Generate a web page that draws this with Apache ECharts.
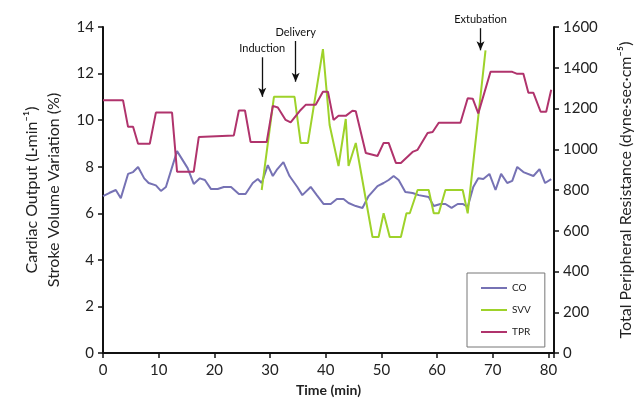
<!DOCTYPE html>
<html>
<head>
<meta charset="utf-8">
<script src="https://cdn.jsdelivr.net/npm/echarts@6/dist/echarts.min.js"></script>
<style>
  html, body { margin: 0; padding: 0; background: #fff; }
  #chart { width: 642px; height: 410px; }
</style>
</head>
<body>
<div id="chart"></div>
<script>
// time (min) and value for each corner of the lines
const coTime = [0, 1.1, 2.3, 3.2, 4.5, 5.4, 6.3, 7.4, 8.2, 9.5, 10.4, 11.3, 13.3, 15.2, 16.3, 17.4, 18.3, 19.4, 20.6, 21.7, 23, 24.4, 25.6, 26.9, 27.8, 28.5, 29.6, 30.5, 31.2, 32.4, 33.5, 34.9, 35.8, 37.3, 38.4, 39.6, 40.9, 42, 43.2, 44.1, 45.4, 46.6, 47.7, 49.3, 50.4, 51.3, 52.2, 53.1, 54.3, 55.6, 56.7, 58.5, 59.4, 60.6, 61.5, 62.6, 63.7, 64.6, 65.5, 66.5, 67.4, 68.3, 69.4, 70.5, 71.5, 72.6, 73.5, 74.4, 75.5, 77.3, 78.4, 79.4, 80.5];
const coValue = [6.74, 6.87, 7.0, 6.65, 7.69, 7.77, 7.99, 7.5, 7.3, 7.2, 6.96, 7.13, 8.67, 7.94, 7.26, 7.5, 7.43, 7.04, 7.04, 7.13, 7.13, 6.83, 6.83, 7.3, 7.47, 7.3, 8.07, 7.6, 7.86, 8.2, 7.6, 7.13, 6.78, 7.13, 6.78, 6.4, 6.4, 6.61, 6.61, 6.44, 6.31, 6.23, 6.74, 7.17, 7.3, 7.43, 7.6, 7.43, 6.91, 6.87, 6.78, 6.7, 6.31, 6.4, 6.4, 6.23, 6.4, 6.4, 6.27, 7.13, 7.5, 7.47, 7.69, 7.0, 7.69, 7.3, 7.39, 7.99, 7.77, 7.6, 7.9, 7.3, 7.47];

const svvTime = [28.5, 30.7, 34.4, 35.5, 36.8, 39.5, 40.7, 42.3, 43.6, 44.1, 45.4, 48.4, 49.5, 50.4, 51.5, 53.5, 54.5, 55.1, 56.5, 58.5, 59.4, 60.3, 61.5, 64.6, 65.5, 68.7];
const svvValue = [7.0, 11.0, 11.0, 9.02, 9.02, 13.05, 9.79, 8.03, 10.05, 8.03, 9.02, 4.98, 4.98, 6.0, 4.98, 4.98, 6.0, 6.0, 7.0, 7.0, 6.0, 6.0, 7.0, 7.0, 6.0, 13.0];

const tprTime = [0, 3.6, 4.5, 5.4, 6.3, 8.4, 9.5, 12.4, 13.3, 16.3, 17.2, 23.5, 24.4, 25.5, 26.5, 29.4, 30.5, 31.4, 32.8, 33.7, 35.5, 36.4, 38.2, 39.5, 40.4, 41.4, 42.3, 43.6, 44.8, 45.4, 47.2, 49.3, 50.4, 51.3, 52.6, 53.5, 55.6, 56.5, 58.3, 59.2, 60.3, 64.2, 65.5, 66.4, 67.4, 69.6, 73.5, 74.4, 75.5, 76.4, 77.3, 78.6, 79.6, 80.5];
const tprValue = [1240, 1240, 1110, 1110, 1027, 1027, 1180, 1180, 890, 890, 1060, 1068, 1190, 1190, 1036, 1036, 1213, 1205, 1144, 1132, 1193, 1218, 1218, 1282, 1282, 1144, 1164, 1164, 1189, 1186, 982, 967, 1031, 1031, 933, 933, 987, 997, 1080, 1085, 1130, 1130, 1250, 1248, 1176, 1380, 1380, 1370, 1370, 1277, 1277, 1184, 1184, 1292];

// events: time, arrow top and bottom on the left axis
const eventNames = ['Induction', 'Delivery', 'Extubation'];
const eventTime = [28.6, 34.6, 67.8];
const eventTop = [12.7, 13.4, 13.95];
const eventBottom = [11.0, 11.65, 13.0];

const xTicks = [0, 10, 20, 30, 40, 50, 60, 70, 80];

const font = 'Lato, "Open Sans", sans-serif';
const pairs = (xs, ys) => xs.map((x, i) => [x, ys[i]]);

const chart = echarts.init(document.getElementById('chart'));

const eventLines = eventNames.map((name, i) => [
    {
        coord: [eventTime[i], eventTop[i]],
        label: { show: true, position: 'start', formatter: name, distance: 3 }
    },
    { coord: [eventTime[i], eventBottom[i]] }
]);

chart.setOption({
    animation: false,
    textStyle: { fontFamily: font },
    grid: { left: 103, right: 87, top: 27, bottom: 57 },
    legend: {
        orient: 'vertical',
        left: 467,
        top: 273,
        width: 60,
        padding: [9, 14, 9, 14],
        itemGap: 10,
        icon: 'rect',
        itemWidth: 26,
        itemHeight: 2,
        borderColor: '#777',
        borderWidth: 1,
        textStyle: { fontSize: 10, color: '#222', fontFamily: font, lineHeight: 12 },
        data: ['CO', 'SVV', 'TPR']
    },
    xAxis: {
        type: 'value',
        min: 0,
        max: 81,
        interval: 10,
        name: 'Time (min)',
        nameLocation: 'middle',
        nameGap: 30,
        nameTextStyle: { fontSize: 14, fontWeight: 'bold', color: '#222' },
        splitLine: { show: false },
        axisLine: { lineStyle: { color: '#111', width: 2 } },
        axisTick: { length: 5, lineStyle: { color: '#111', width: 1.5 } },
        axisLabel: {
            fontSize: 15, color: '#222', margin: 10,
            formatter: v => (xTicks.indexOf(v) >= 0 ? String(v) : '')
        }
    },
    yAxis: [
        {
            type: 'value',
            min: 0,
            max: 14,
            interval: 2,
            name: 'Cardiac Output (L·min⁻¹)\nStroke Volume Variation (%)',
            nameLocation: 'middle',
            nameRotate: 90,
            nameGap: 38,
            nameTextStyle: { fontSize: 16, color: '#222', lineHeight: 22 },
            splitLine: { show: false },
            axisLine: { show: true, lineStyle: { color: '#111', width: 2 } },
            axisTick: { show: true, length: 5, lineStyle: { color: '#111', width: 1.5 } },
            axisLabel: { fontSize: 15, color: '#222', margin: 9 }
        },
        {
            type: 'value',
            min: 0,
            max: 1600,
            interval: 200,
            name: 'Total Peripheral Resistance (dyne·sec·cm⁻⁵)',
            nameLocation: 'middle',
            nameRotate: 90,
            nameGap: 64,
            nameTextStyle: { fontSize: 16, color: '#222' },
            splitLine: { show: false },
            axisLine: { show: true, lineStyle: { color: '#111', width: 2 } },
            axisTick: { show: true, length: 5, lineStyle: { color: '#111', width: 1.5 } },
            axisLabel: { fontSize: 15, color: '#222', margin: 9, formatter: v => String(v) }
        }
    ],
    series: [
        {
            name: 'CO',
            type: 'line',
            yAxisIndex: 0,
            symbol: 'none',
            data: pairs(coTime, coValue),
            lineStyle: { color: '#7672b4', width: 2 },
            itemStyle: { color: '#7672b4' },
            markLine: {
                silent: true,
                symbol: ['none', 'arrow'],
                symbolSize: [6, 9],
                lineStyle: { color: '#111', width: 1.3, type: 'solid' },
                label: { fontSize: 11, color: '#111', fontFamily: font },
                data: eventLines
            }
        },
        {
            name: 'SVV',
            type: 'line',
            yAxisIndex: 0,
            symbol: 'none',
            data: pairs(svvTime, svvValue),
            lineStyle: { color: '#9ed22a', width: 2 },
            itemStyle: { color: '#9ed22a' }
        },
        {
            name: 'TPR',
            type: 'line',
            yAxisIndex: 1,
            symbol: 'none',
            data: pairs(tprTime, tprValue),
            lineStyle: { color: '#b0336c', width: 2 },
            itemStyle: { color: '#b0336c' }
        }
    ]
});
</script>
</body>
</html>
